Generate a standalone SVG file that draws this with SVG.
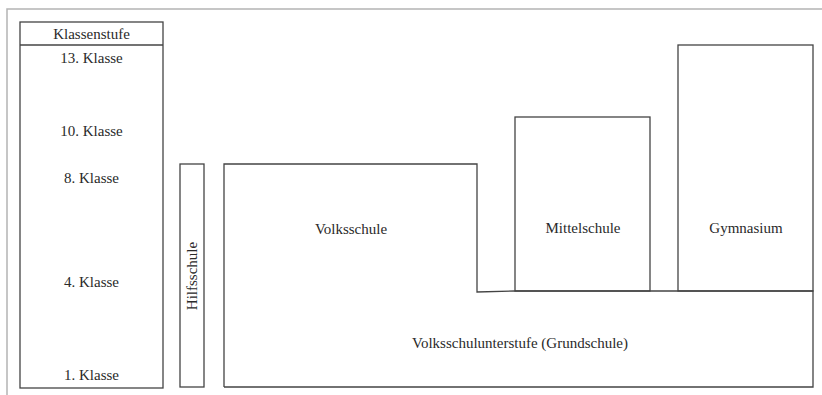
<svg xmlns="http://www.w3.org/2000/svg" width="822" height="395" viewBox="0 0 822 395">
<style>
.frame{fill:none;stroke:#b4b4b4;stroke-width:1.5}
.box{fill:#fff;stroke:#444;stroke-width:1.3}
.ln{fill:none;stroke:#444;stroke-width:1.3}
.t{font-family:'Liberation Serif','DejaVu Serif',serif;font-size:15px;fill:#2a2a2a;text-anchor:middle}
</style>
<rect width="822" height="395" fill="#fff"/>
<path class="frame" d="M7,395 V9 H822"/>
<g id="klassenstufe">
<rect class="box" x="20" y="22" width="143" height="366"/>
<line class="ln" x1="20" y1="45" x2="163" y2="45"/>
<text class="t" font-family="Liberation Serif, serif" x="91.5" y="38.5">Klassenstufe</text>
<text class="t" font-family="Liberation Serif, serif" x="91.5" y="62.5">13. Klasse</text>
<text class="t" font-family="Liberation Serif, serif" x="91.5" y="135.5">10. Klasse</text>
<text class="t" font-family="Liberation Serif, serif" x="91.5" y="182.5">8. Klasse</text>
<text class="t" font-family="Liberation Serif, serif" x="91.5" y="286.5">4. Klasse</text>
<text class="t" font-family="Liberation Serif, serif" x="91.5" y="379.5">1. Klasse</text>
</g>
<g id="hilfsschule">
<rect class="box" x="180" y="164" width="24" height="223"/>
<text class="t" font-family="Liberation Serif, serif" transform="translate(197,276) rotate(-90)">Hilfsschule</text>
</g>
<g id="volksschule">
<path class="ln" d="M224,387 V164 H477 V292 L515,291"/>
<text class="t" font-family="Liberation Serif, serif" x="351" y="233.5">Volksschule</text>
</g>
<g id="mittelschule">
<rect class="box" x="515" y="117" width="135" height="174"/>
<text class="t" font-family="Liberation Serif, serif" x="583" y="232.5">Mittelschule</text>
</g>
<g id="gymnasium">
<rect class="box" x="678" y="45" width="135" height="246"/>
<text class="t" font-family="Liberation Serif, serif" x="746" y="232.5">Gymnasium</text>
</g>
<g id="grundschule">
<path class="ln" d="M515,291 H813 V387 H224"/>
<text class="t" font-family="Liberation Serif, serif" x="520" y="347.5">Volksschulunterstufe (Grundschule)</text>
</g>
<g id="connectors"></g>
</svg>
